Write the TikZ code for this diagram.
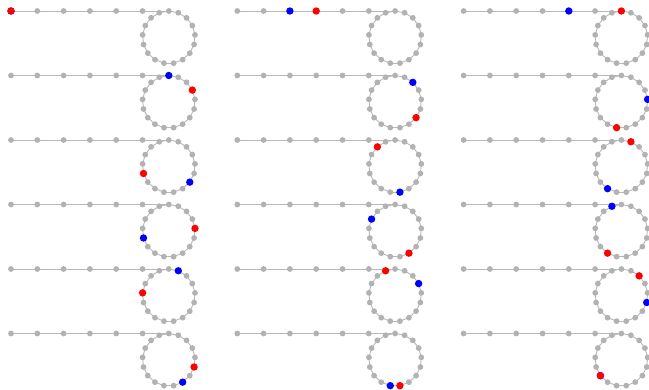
\documentclass[tikz,border=0pt]{standalone}
\definecolor{dotgray}{HTML}{B2B2B2}
\definecolor{edgegray}{HTML}{B8B8B8}
\begin{document}
\begin{tikzpicture}[x=1pt,y=-1pt,
  edge/.style={draw=edgegray, line width=0.9pt},
  graydot/.style={circle, fill=dotgray, inner sep=0pt, minimum size=5.8pt},
  bluedot/.style={circle, fill=blue, inner sep=0pt, minimum size=7.4pt},
  reddot/.style={circle, fill=red, inner sep=0pt, minimum size=7.4pt}]
\useasboundingbox (0,0) rectangle (649,390);
% 18 snapshots of a rho-shaped walk: a tail of 6 nodes feeding a 17-node cycle
\foreach \s in {0,...,17}{
  \pgfmathtruncatemacro{\row}{floor(\s/3)}
  \pgfmathtruncatemacro{\col}{mod(\s,3)}
  \pgfmathsetmacro{\xo}{11+226.3*\col}
  \pgfmathsetmacro{\yo}{11+64.5*\row}
  % tail
  \foreach \k in {0,...,5}
    \coordinate (c\s-\k) at ({\xo+26.3*\k},\yo);
  % cycle, clockwise from the top
  \foreach \j in {0,...,16}{
    \pgfmathtruncatemacro{\k}{\j+6}
    \coordinate (c\s-\k) at ({\xo+157.8+26.3*cos(90-\j*360/17)},{\yo+26.3-26.3*sin(90-\j*360/17)});
  }
  \foreach \k [evaluate=\k as \kn using int(\k+1)] in {0,...,21}
    \draw[edge] (c\s-\k) -- (c\s-\kn);
  \draw[edge] (c\s-22) -- (c\s-6);
  \foreach \k in {0,...,22}
    \node[graydot] (d\s-\k) at (c\s-\k) {};
  % slow walker (2 steps) and fast walker (3 steps) per snapshot
  \pgfmathtruncatemacro{\b}{2*\s}
  \pgfmathtruncatemacro{\bn}{\b<6 ? \b : 6+mod(\b-6,17)}
  \pgfmathtruncatemacro{\r}{3*\s}
  \pgfmathtruncatemacro{\rn}{\r<6 ? \r : 6+mod(\r-6,17)}
  \node[bluedot] (slow\s) at (c\s-\bn) {};
  \node[reddot] (fast\s) at (c\s-\rn) {};
}
\end{tikzpicture}
\end{document}
